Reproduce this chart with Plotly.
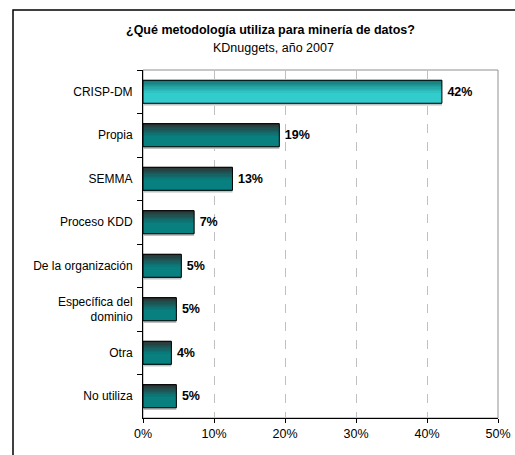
import plotly.graph_objects as go

categories = ["CRISP-DM", "Propia", "SEMMA", "Proceso KDD", "De la organización",
              "Específica del<br>dominio", "Otra", "No utiliza"]
values = [42.1, 19.2, 12.6, 7.2, 5.4, 4.7, 4.0, 4.7]
x_ticks = [0, 10, 20, 30, 40, 50]
x_tick_labels = ["0%", "10%", "20%", "30%", "40%", "50%"]
title_text = "<b>¿Qué metodología utiliza para minería de datos?</b>"
subtitle_text = "KDnuggets, año 2007"

FONT = "Liberation Sans, Arial, sans-serif"
BAR_W = 0.53
N = 18


def lerp(c1, c2, t):
    return "rgb(%d,%d,%d)" % tuple(round(a + (b - a) * t) for a, b in zip(c1, c2))


def grad(top, bottom, t):
    tt = min(1.0, t / 0.58)
    return lerp(top, bottom, tt)


hl_top, hl_bot = (18, 110, 110), (50, 204, 204)
dk_top, dk_bot = (48, 48, 48), (8, 128, 128)

fig = go.Figure()

# shadow
fig.add_trace(go.Bar(
    y=categories, x=values, orientation="h",
    width=BAR_W, offset=-BAR_W / 2 + 0.05,
    marker=dict(color="#c0c0c0", line=dict(width=0)),
    hoverinfo="skip", showlegend=False,
))

w = BAR_W / N
for i in range(N):
    t = (i + 0.5) / N
    colors = [grad(hl_top, hl_bot, t) if k == 0 else grad(dk_top, dk_bot, t)
              for k in range(len(categories))]
    fig.add_trace(go.Bar(
        y=categories, x=values, orientation="h",
        width=w * 1.4 if i < N - 1 else w, offset=-BAR_W / 2 + i * w,
        marker=dict(color=colors, line=dict(width=0)),
        hoverinfo="skip", showlegend=False,
    ))

fig.add_trace(go.Bar(
    y=categories, x=values, orientation="h",
    width=BAR_W, offset=-BAR_W / 2,
    marker=dict(color="rgba(0,0,0,0)", line=dict(color="black", width=1)),
    texttemplate="\u2009%{x:.0f}%", textposition="outside", cliponaxis=False,
    textfont=dict(family=FONT, size=12.5, color="black", weight="bold"),
    showlegend=False,
))

fig.update_layout(
    width=515, height=455,
    barmode="overlay",
    paper_bgcolor="white", plot_bgcolor="white",
    margin=dict(l=143, r=17, t=70, b=37),
    font=dict(family=FONT, size=12, color="black"),
    xaxis=dict(
        range=[0, 50], tickvals=x_ticks, ticktext=x_tick_labels,
        showgrid=True, gridcolor="#c0c0c0", griddash="dash", gridwidth=1,
        showline=True, linecolor="black", linewidth=1,
        ticks="outside", ticklen=4, tickcolor="black", automargin=False,
        tickfont=dict(family=FONT, size=12.5), zeroline=False, fixedrange=True,
    ),
    yaxis=dict(
        autorange="reversed", showgrid=False, automargin=False,
        showline=True, linecolor="black", linewidth=1,
        ticks="outside", ticklen=5, tickcolor="black", tickson="boundaries",
        tickfont=dict(family=FONT, size=12), ticklabelstandoff=7,
    ),
    shapes=[
        dict(type="rect", xref="paper", yref="paper", x0=0, x1=1, y0=0, y1=1,
             line=dict(color="#909090", width=1), layer="below"),
        dict(type="rect", xref="paper", yref="paper",
             x0=(13 - 143) / 355, x1=1.2, y0=-0.3, y1=1 + (70 - 10) / 348,
             line=dict(color="black", width=1.5), fillcolor="rgba(0,0,0,0)"),
    ],
    annotations=[
        dict(text=title_text, xref="paper", yref="paper",
             x=(270 - 143) / 355, y=1 + (70 - 30) / 348, xanchor="center", yanchor="middle",
             showarrow=False, font=dict(family=FONT, size=12.5)),
        dict(text=subtitle_text, xref="paper", yref="paper",
             x=(273 - 143) / 355, y=1 + (70 - 48) / 348, xanchor="center", yanchor="middle",
             showarrow=False, font=dict(family=FONT, size=12.5)),
    ],
)

fig.write_html(
    "out.html",
    config={"displayModeBar": False},
    post_script="document.body.style.margin='0';document.body.style.overflow='hidden';",
)
